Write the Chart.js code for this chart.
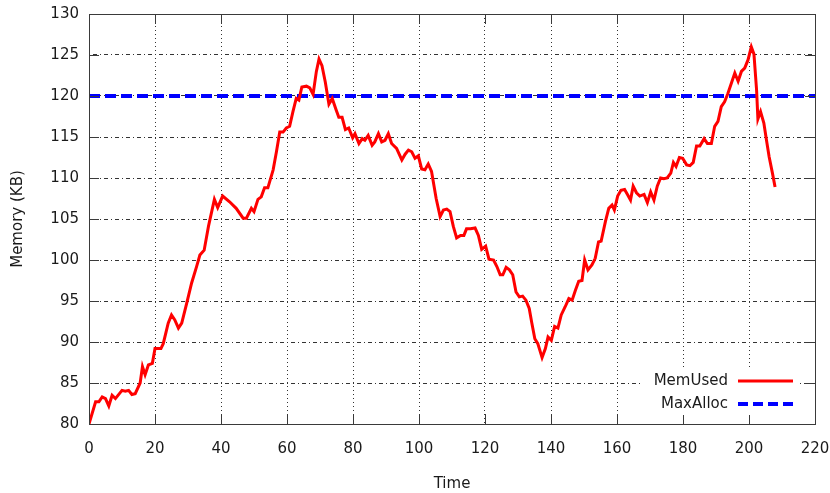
<!DOCTYPE html>
<html>
<head>
<meta charset="utf-8">
<script src="https://cdn.jsdelivr.net/npm/chart.js@4/dist/chart.umd.min.js"></script>
<style>
  html, body { margin: 0; padding: 0; background: #fff; }
  #wrap { width: 830px; height: 493px; }
</style>
</head>
<body>
<div id="wrap"><canvas id="c" width="830" height="493"></canvas></div>
<script>
// Sample times and memory usage (KB)
const timeSteps = [
  0, 2, 3, 4, 5, 6, 7, 8, 10, 11, 12, 13, 14, 15.5, 16.2, 17, 18, 19.2, 20, 21.8, 22.5,
  24, 25, 26, 27.1, 28.1, 29.6, 31.1, 32.6, 33.6, 34.9, 36.2, 38, 39, 40.5, 42.6, 44.6,
  46.7, 47.7, 49.2, 50, 51.2, 52.2, 53.2, 54.2, 55.8, 56.8, 57.8, 58.8, 59.8, 60.8, 61.8,
  62.8, 63.6, 64.5, 65.9, 66.9, 67.9, 68.9, 69.7, 70.6, 71.6, 72.7, 73.7, 74.9, 75.7,
  76.7, 77.7, 78.7, 79.9, 80.6, 81.8, 82.8, 83.6, 84.6, 85.8, 86.6, 87.7, 88.7, 89.7,
  90.7, 91.7, 93.2, 94.8, 95.8, 96.8, 97.8, 98.8, 99.8, 100.8, 101.8, 102.8, 103.8,
  105.2, 106.4, 107.4, 108.4, 109.4, 110.4, 111.4, 112.6, 113.6, 114.4, 115.6, 117, 118,
  119, 120.2, 121.2, 122.6, 123.6, 124.6, 125.4, 126.4, 127.4, 128.4, 129.4, 130.4,
  131.4, 132.4, 133.4, 134.2, 135.1, 136, 137.3, 138.3, 139.1, 140.1, 141.1, 142.1,
  143.1, 144.3, 145.4, 146.4, 147.4, 148.4, 149.4, 150.2, 151.2, 152.4, 153.4, 154.4,
  155.2, 156.5, 157.5, 158.5, 159.2, 160.2, 161.2, 162.3, 163.3, 164.1, 164.9, 165.9,
  166.9, 168.2, 169.2, 170.2, 171.2, 172.2, 173.2, 174.2, 175.2, 176.3, 177.1, 177.9,
  178.9, 179.9, 181.1, 182.1, 183.1, 184.1, 185.1, 186.4, 187.4, 188.6, 189.6, 190.6,
  191.6, 192.6, 193.6, 194.6, 195.7, 196.7, 197.7, 198.7, 199.7, 200.7, 201.5, 202.3,
  202.7, 203.5, 204.5, 205.3, 206.1, 207.1, 207.9
];
const memUsed = [
  80.0, 82.7, 82.7, 83.3, 83.1, 82.2, 83.5, 83.1, 84.1, 84.0, 84.1, 83.6, 83.7, 85.0, 87.0, 86.0, 87.2, 87.4, 89.2, 89.2, 89.8,
  92.3, 93.3, 92.7, 91.7, 92.3, 94.7, 97.2, 99.2, 100.6, 101.2, 104.1, 107.4, 106.4, 107.8, 107.1, 106.3,
  105.1, 105.1, 106.3, 105.9, 107.4, 107.7, 108.8, 108.8, 111.0, 113.2, 115.6, 115.6, 116.1, 116.3, 118.1,
  119.7, 119.5, 121.1, 121.2, 121.0, 120.2, 123.0, 124.5, 123.7, 121.7, 119.0, 119.7, 118.3, 117.4,
  117.4, 115.9, 116.1, 114.9, 115.4, 114.2, 114.8, 114.6, 115.2, 114.0, 114.4, 115.4, 114.4, 114.6,
  115.4, 114.2, 113.6, 112.2, 112.9, 113.4, 113.2, 112.4, 112.7, 111.1, 111.0, 111.7, 110.8,
  107.5, 105.3, 106.1, 106.2, 105.9, 104.1, 102.7, 103.0, 103.0, 103.8, 103.8, 103.9, 103.0,
  101.3, 101.7, 100.1, 100.0, 99.2, 98.2, 98.2, 99.1, 98.8, 98.2, 96.1, 95.5,
  95.6, 95.1, 94.1, 92.3, 90.4, 89.8, 88.1, 89.2, 90.6, 90.2, 91.9, 91.7,
  93.3, 94.3, 95.3, 95.1, 96.3, 97.4, 97.5, 100.0, 98.8, 99.4, 100.2, 102.2,
  102.3, 104.7, 106.3, 106.7, 106.1, 107.8, 108.5, 108.6, 107.9, 107.3, 109.0, 108.2,
  107.8, 108.0, 107.0, 108.3, 107.3, 109.0, 110.0, 109.9, 110.0, 110.6, 111.9, 111.4,
  112.5, 112.4, 111.6, 111.5, 111.9, 113.9, 113.9, 114.8, 114.2, 114.2, 116.3, 116.9,
  118.7, 119.3, 120.3, 121.5, 122.8, 121.8, 123.0, 123.4, 124.4, 126.0, 125.1, 120.7,
  117.2, 118.1, 116.7, 114.6, 112.6, 110.6, 108.9
];
const maxAlloc = 120;
const allocSpan = [0, 220];
const seriesNames = ['MemUsed', 'MaxAlloc'];
const xTickValues = [0, 20, 40, 60, 80, 100, 120, 140, 160, 180, 200, 220];
const yTickValues = [80, 85, 90, 95, 100, 105, 110, 115, 120, 125, 130];

const FONT = 'DejaVu Sans';
const TEXT = '#1a1a1a';
const FRAME = '#3a3a3a';

Chart.defaults.font.family = FONT;
Chart.defaults.font.size = 15;
Chart.defaults.color = TEXT;

// Mirrored inward tick marks and the plot frame
const frameTicks = {
  id: 'frameTicks',
  afterDatasetsDraw(chart) {
    const { ctx, chartArea: a, scales: { x, y } } = chart;
    const L = 10;
    ctx.save();
    ctx.setLineDash([]);
    ctx.strokeStyle = FRAME;
    ctx.lineWidth = 1;
    ctx.beginPath();
    x.ticks.forEach(t => {
      const px = Math.round(x.getPixelForValue(t.value)) + 0.5;
      ctx.moveTo(px, a.bottom); ctx.lineTo(px, a.bottom - L);
      ctx.moveTo(px, a.top); ctx.lineTo(px, a.top + L);
    });
    y.ticks.forEach(t => {
      const py = Math.round(y.getPixelForValue(t.value)) + 0.5;
      ctx.moveTo(a.left, py); ctx.lineTo(a.left + L, py);
      ctx.moveTo(a.right, py); ctx.lineTo(a.right - L, py);
    });
    ctx.stroke();
    ctx.strokeRect(Math.round(a.left) + 0.5, Math.round(a.top) + 0.5,
                   Math.round(a.right - a.left), Math.round(a.bottom - a.top));
    ctx.restore();
  }
};

// Key in the lower-right corner of the plot
const keyBox = {
  id: 'keyBox',
  afterDraw(chart) {
    const { ctx } = chart;
    const ds = chart.data.datasets;
    const textRight = 728, lineX0 = 738, lineX1 = 793;
    const rows = [381, 404];
    ctx.save();
    ctx.fillStyle = '#fff';
    ctx.fillRect(640, 369, 160, 46);
    ctx.font = '15px ' + FONT;
    ctx.textAlign = 'right';
    ctx.textBaseline = 'middle';
    ds.forEach((d, i) => {
      ctx.fillStyle = TEXT;
      ctx.fillText(d.label, textRight, rows[i]);
      ctx.strokeStyle = d.borderColor;
      ctx.lineWidth = d.borderWidth;
      ctx.setLineDash(i === 1 ? [10, 5] : []);
      ctx.beginPath();
      ctx.moveTo(lineX0, rows[i]);
      ctx.lineTo(lineX1, rows[i]);
      ctx.stroke();
    });
    ctx.restore();
  }
};

const edge = (vals) => (c) => {
  const v = c.tick ? c.tick.value : null;
  return (v === vals[0] || v === vals[vals.length - 1]) ? 'rgba(0,0,0,0)' : '#333';
};

new Chart(document.getElementById('c'), {
  type: 'line',
  data: {
    datasets: [
      {
        label: seriesNames[0],
        data: timeSteps.map((t, i) => ({ x: t, y: memUsed[i] })),
        borderColor: '#ff0000',
        borderWidth: 3,
        pointRadius: 0,
        tension: 0,
        fill: false
      },
      {
        label: seriesNames[1],
        data: allocSpan.map(t => ({ x: t, y: maxAlloc })),
        borderColor: '#0000ff',
        borderWidth: 4,
        borderDash: [11, 5],
        pointRadius: 0,
        tension: 0,
        fill: false
      }
    ]
  },
  options: {
    responsive: false,
    animation: false,
    devicePixelRatio: 1,
    layout: { padding: { top: 14, right: 15, left: 0, bottom: 0 } },
    plugins: { legend: { display: false }, tooltip: { enabled: false } },
    scales: {
      x: {
        type: 'linear',
        min: xTickValues[0],
        max: xTickValues[xTickValues.length - 1],
        afterBuildTicks: s => { s.ticks = xTickValues.map(v => ({ value: v })); },
        afterFit: s => { s.height = 69; s.paddingLeft = 0; s.paddingRight = 0; },
        ticks: { padding: 16, color: TEXT, font: { size: 15 }, maxRotation: 0 },
        grid: { drawTicks: false, color: edge(xTickValues), lineWidth: 1 },
        border: { display: false, dash: [1, 3] },
        title: { display: true, text: 'Time', font: { size: 15 }, color: TEXT, padding: { top: 0, bottom: 0 } }
      },
      y: {
        type: 'linear',
        min: yTickValues[0],
        max: yTickValues[yTickValues.length - 1],
        afterBuildTicks: s => { s.ticks = yTickValues.map(v => ({ value: v })); },
        afterFit: s => { s.width = 89; s.paddingTop = 0; s.paddingBottom = 0; },
        ticks: { padding: 10, color: TEXT, font: { size: 15 } },
        grid: { drawTicks: false, color: edge(yTickValues), lineWidth: 1 },
        border: { display: false, dash: [1, 3, 4, 3] },
        title: { display: true, text: 'Memory (KB)', font: { size: 15 }, color: TEXT, padding: { top: 9, bottom: 0 } }
      }
    }
  },
  plugins: [frameTicks, keyBox]
});
</script>
</body>
</html>
